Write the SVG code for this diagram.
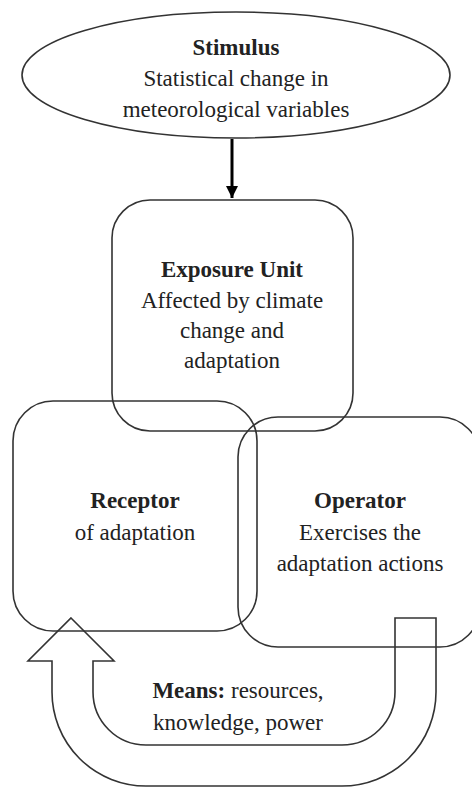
<svg xmlns="http://www.w3.org/2000/svg" width="472" height="788" viewBox="0 0 472 788">
<defs>
<style>
.shape{fill:none;stroke:#333;stroke-width:1.6}
.t{font-family:"Liberation Serif","Times New Roman",serif;font-size:23px;fill:#222;text-anchor:middle}
.b{font-weight:bold}
</style>
<marker id="ah" markerWidth="4" markerHeight="4" refX="4" refY="2" orient="auto" markerUnits="strokeWidth">
<path d="M0,0 L4,2 L0,4 Z" fill="#000"/>
</marker>
</defs>
<rect width="472" height="788" fill="#fff"/>
<g id="stimulus">
<ellipse class="shape" cx="236" cy="75" rx="214" ry="63"/>
<text class="t b" x="236" y="55">Stimulus</text>
<text class="t" x="236" y="86">Statistical change in</text>
<text class="t" x="236" y="117">meteorological variables</text>
</g>
<g id="exposure">
<rect class="shape" x="112" y="200" width="241" height="231" rx="38"/>
<text class="t b" x="232" y="277">Exposure Unit</text>
<text class="t" x="232" y="308">Affected by climate</text>
<text class="t" x="232" y="338">change and</text>
<text class="t" x="232" y="368">adaptation</text>
</g>
<g id="receptor">
<rect class="shape" x="13" y="401" width="244" height="230" rx="40"/>
<text class="t b" x="135" y="508">Receptor</text>
<text class="t" x="135" y="540">of adaptation</text>
</g>
<g id="operator">
<rect class="shape" x="238" y="417" width="242" height="230" rx="40"/>
<text class="t b" x="360" y="508">Operator</text>
<text class="t" x="360" y="540">Exercises the</text>
<text class="t" x="360" y="571">adaptation actions</text>
</g>
<g id="means">
<path class="shape" d="M71,618 L114,661 L93,661 L93,692 A53,53 0 0 0 146,745 L342,745 A53,53 0 0 0 395,692 L395,618 L436,618 L436,692 A94,94 0 0 1 342,786 L146,786 A94,94 0 0 1 52,692 L52,661 L28,661 Z"/>
<text class="t" x="238" y="698"><tspan class="b">Means:</tspan> resources,</text>
<text class="t" x="238" y="730">knowledge, power</text>
</g>
<g id="connectors">
<line x1="232" y1="139" x2="232" y2="198" stroke="#000" stroke-width="3" marker-end="url(#ah)"/>
</g>
</svg>
